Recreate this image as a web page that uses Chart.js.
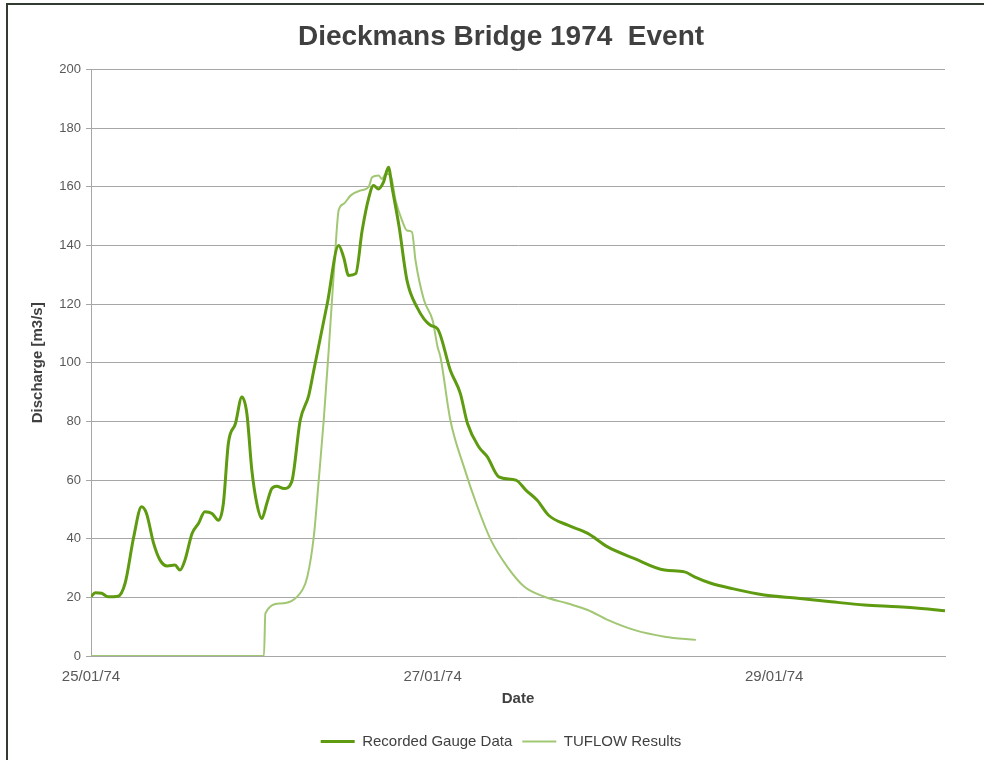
<!DOCTYPE html>
<html>
<head>
<meta charset="utf-8">
<script src="https://cdn.jsdelivr.net/npm/chart.js@4/dist/chart.umd.min.js"></script>
<style>
  html, body { margin: 0; padding: 0; background: #ffffff; overflow: hidden; width: 984px; height: 760px; }
  #frame { position: absolute; left: 6px; top: 3px; width: 1100px; height: 900px; border-top: 2px solid #323b32; border-left: 2px solid #323b32; box-sizing: border-box; }
  #wrap { position: absolute; left: 0; top: 0; width: 1002px; height: 760px; }
</style>
</head>
<body>
<div id="frame"></div>
<div id="wrap"><canvas id="c" width="1002" height="760"></canvas></div>
<script>
// ---- Data (hours after 25/01/74 00:00) ----
const gaugeHours = [0, 0.6, 1.5, 2.4, 3.8, 4.8, 6.0, 7.1, 7.8, 8.8, 9.7, 10.7, 11.8, 12.5, 13.2, 14.2, 15.1, 16.0, 17.0, 17.9, 18.6, 19.3, 20.3, 21.2, 21.9, 22.6, 23.3, 24.0, 24.7, 25.4, 26.1, 27.1, 28.2, 29.4, 30.6, 31.3, 33.2, 34.8, 35.5, 36.2, 37.2, 38.1, 39.0, 39.7, 40.4, 41.1, 41.8, 42.3, 43.3, 44.4, 45.8, 47.7, 48.7, 50.5, 51.9, 52.9, 54.5, 55.7, 57.3, 59.7, 61.1, 62.7, 64.3, 67.0, 69.8, 72.6, 76.3, 80.6, 83.4, 84.8, 87.1, 89.9, 94.6, 99.3, 104.0, 108.7, 113.4, 116.7, 120.0];
const gaugeFlow = [20.2, 21.6, 21.4, 20.2, 20.4, 24.9, 40.6, 50.9, 48.6, 38.4, 32.7, 30.7, 31.0, 29.3, 32.7, 41.8, 45.2, 49.2, 48.6, 46.3, 52.0, 72.5, 79.3, 88.3, 82.7, 63.4, 52.0, 46.9, 52.0, 57.1, 57.9, 57.1, 59.4, 80.4, 88.9, 97.4, 120.2, 140.0, 136.0, 129.8, 130.4, 145.1, 156.0, 160.5, 159.3, 161.6, 166.7, 159.9, 146.3, 128.1, 119.0, 112.8, 111.6, 97.4, 89.5, 79.3, 71.3, 67.9, 61.1, 60.0, 56.6, 53.1, 48.0, 44.6, 41.8, 37.2, 33.3, 29.3, 28.7, 27.0, 24.8, 23.1, 20.8, 19.7, 18.5, 17.4, 16.8, 16.2, 15.4];

const tuflowHours = [0, 24.3, 24.5, 26.6, 29.7, 30.4, 31.3, 32.0, 32.7, 33.4, 34.3, 34.8, 35.5, 36.5, 37.9, 39.0, 39.5, 40.4, 40.9, 41.4, 42.1, 42.8, 43.7, 44.4, 45.1, 45.6, 46.8, 48.0, 48.7, 49.1, 50.5, 52.4, 54.3, 56.2, 58.5, 60.9, 63.7, 67.0, 69.8, 72.6, 76.3, 80.6, 85.0];
const tuflowFlow = [0, 0, 14.5, 17.9, 22.5, 27.0, 40.6, 60.0, 80.4, 104.3, 137.2, 152.0, 154.2, 157.1, 158.8, 159.9, 163.3, 163.9, 162.7, 164.5, 163.9, 155.4, 148.6, 145.1, 144.6, 134.9, 121.3, 114.5, 105.4, 102.0, 80.4, 64.5, 50.9, 39.5, 30.4, 23.6, 20.2, 17.9, 15.7, 12.3, 8.9, 6.6, 5.5];

const xTickHours = [0, 48, 96];
const xTickLabels = ['25/01/74', '27/01/74', '29/01/74'];
const seriesNames = ['Recorded Gauge Data', 'TUFLOW Results'];

const toPoints = (xs, ys) => xs.map((x, i) => ({ x: x, y: ys[i] }));
const FONT = "'Liberation Sans', Arial, sans-serif";

new Chart(document.getElementById('c'), {
  type: 'line',
  data: {
    datasets: [
      {
        label: seriesNames[0],
        data: toPoints(gaugeHours, gaugeFlow),
        borderColor: '#5f9b10',
        backgroundColor: '#5f9b10',
        borderWidth: 3,
        pointRadius: 0,
        cubicInterpolationMode: 'monotone',
        fill: false
      },
      {
        label: seriesNames[1],
        data: toPoints(tuflowHours, tuflowFlow),
        borderColor: '#a2c774',
        backgroundColor: '#a2c774',
        borderWidth: 2,
        pointRadius: 0,
        cubicInterpolationMode: 'monotone',
        fill: false
      }
    ]
  },
  options: {
    responsive: false,
    animation: false,
    layout: { padding: { left: 0, right: 0, top: 4, bottom: 1 } },
    plugins: {
      title: {
        display: true,
        text: 'Dieckmans Bridge 1974  Event',
        color: '#404040',
        font: { family: FONT, size: 28, weight: 'bold' },
        padding: { top: 16, bottom: 16 }
      },
      legend: {
        position: 'bottom',
        labels: {
          color: '#404040',
          font: { family: FONT, size: 15 },
          usePointStyle: true,
          pointStyle: 'line',
          pointStyleWidth: 34,
          padding: 10
        }
      },
      tooltip: { enabled: false }
    },
    scales: {
      x: {
        type: 'linear',
        min: 0,
        max: 120,
        afterBuildTicks: (scale) => { scale.ticks = xTickHours.map(v => ({ value: v })); },
        afterFit: (scale) => { scale.height = 68; },
        ticks: {
          color: '#595959',
          font: { family: FONT, size: 15 },
          padding: 7,
          maxRotation: 0,
          autoSkip: false,
          callback: (value) => { const i = xTickHours.indexOf(value); return i >= 0 ? xTickLabels[i] : ''; }
        },
        grid: { display: false, drawTicks: true, tickLength: 5 },
        border: { display: true, color: '#a6a6a6', width: 1 },
        title: {
          display: true,
          text: 'Date',
          color: '#404040',
          font: { family: FONT, size: 15, weight: 'bold' },
          padding: { top: 4, bottom: 16 }
        }
      },
      y: {
        min: 0,
        max: 200,
        afterFit: (scale) => { scale.width = 91; },
        ticks: {
          stepSize: 20,
          color: '#595959',
          font: { family: FONT, size: 13 },
          padding: 5
        },
        grid: { color: '#a6a6a6', lineWidth: 1, drawTicks: true, tickLength: 5 },
        border: { display: true, color: '#a6a6a6', width: 1 },
        title: {
          display: true,
          text: 'Discharge [m3/s]',
          color: '#404040',
          font: { family: FONT, size: 15, weight: 'bold' },
          padding: { top: 29, bottom: 4 }
        }
      },
      yRight: {
        type: 'linear',
        position: 'right',
        display: true,
        afterFit: (scale) => { scale.width = 57; },
        ticks: { display: false },
        grid: { display: false, drawTicks: false },
        border: { display: false },
        title: { display: false }
      }
    }
  }
});
</script>
</body>
</html>
